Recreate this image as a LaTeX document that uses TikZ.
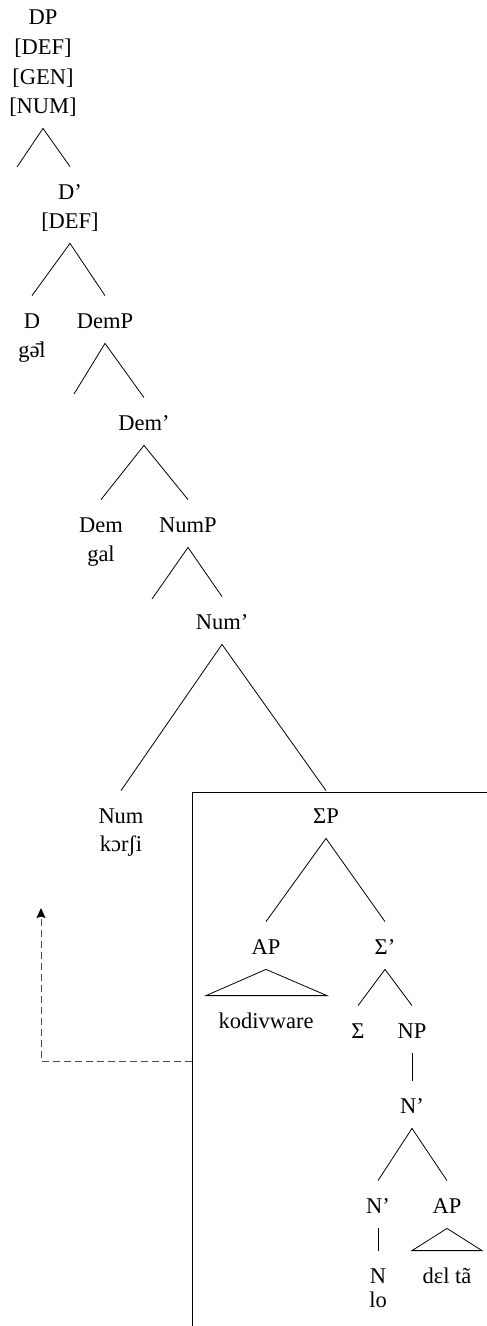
\documentclass[tikz,border=0pt]{standalone}
\usepackage{fontspec}
\setmainfont{Liberation Serif}
\usetikzlibrary{arrows.meta}

\begin{document}
\begin{tikzpicture}[x=1pt, y=-1pt, line width=0.8pt,
    cat/.style = {anchor=base, inner xsep=0pt, inner ysep=10pt, text height=22pt, text depth=5pt, font=\fontsize{22.5}{29}\selectfont},
    move/.style = {dash pattern=on 7pt off 4pt, draw=black!70, line width=1pt}]
        \useasboundingbox (0,0) rectangle (487,1326);
        % DP and its features
        \node [cat] (dp) at (43,24) {DP};
        \node [cat] (dpdef) at (43,54) {[DEF]};
        \node [cat] (dpgen) at (43,84) {[GEN]};
        \node [cat] (dpnum) at (43,113) {[NUM]};
        \coordinate (dspec) at (17,167);
        \node [cat] (dbar) at (70,199) {D'};
        \node [cat] (dbardef) at (70,228) {[DEF]};
        \node [cat] (d) at (32,328) {D};
        \node [cat] (dlex) at (32,357) {g\={ə}l};
        \node [cat] (demp) at (105,328) {DemP};
        \coordinate (demspec) at (74,394);
        \node [cat] (dembar) at (144,430) {Dem'};
        \node [cat] (dem) at (101,532) {Dem};
        \node [cat] (demlex) at (101,561) {gal};
        \node [cat] (nump) at (188,532) {NumP};
        \coordinate (numspec) at (152,599);
        \node [cat] (numbar) at (222,629) {Num'};
        \node [cat] (num) at (121,823) {Num};
        \node [cat] (numlex) at (121,851) {kɔrʃi};
        % inside the box
        \node [cat] (sigp) at (326,823) {ΣP};
        \node [cat] (ap) at (266,954) {AP};
        \node [cat] (sigbar) at (385,954) {Σ'};
        \node [cat] (aplex) at (266,1028) {kodivware};
        \node [cat] (sig) at (358,1038) {Σ};
        \node [cat] (np) at (412,1038) {NP};
        \node [cat] (nbar) at (412,1113) {N'};
        \node [cat] (nbarlow) at (378,1213) {N'};
        \node [cat] (aplow) at (447,1213) {AP};
        \node [cat] (n) at (378,1283) {N};
        \node [cat] (nlex) at (378,1307) {lo};
        \node [cat] (aplowlex) at (447,1283) {dɛl tã};
        % branches
        \draw (dpnum.south) -- (dspec);
        \draw (dpnum.south) -- (dbar.north);
        \draw (dbardef.south) -- (d.north);
        \draw (dbardef.south) -- (demp.north);
        \draw (demp.south) -- (demspec);
        \draw (demp.south) -- (dembar.north);
        \draw (dembar.south) -- (dem.north);
        \draw (dembar.south) -- (nump.north);
        \draw (nump.south) -- (numspec);
        \draw (nump.south) -- (numbar.north);
        \draw (numbar.south) -- (num.north);
        \draw (numbar.south) -- (sigp.north);
        \draw (sigp.south) -- (ap.north);
        \draw (sigp.south) -- (sigbar.north);
        \draw (ap.south) -- ([xshift=-60pt]aplex.north) -- ([xshift=61pt]aplex.north) -- cycle;
        \draw (sigbar.south) -- (sig.north);
        \draw (sigbar.south) -- (np.north);
        \draw (np.south) -- (nbar.north);
        \draw (nbar.south) -- (nbarlow.north);
        \draw (nbar.south) -- (aplow.north);
        \draw (nbarlow.south) -- (n.north);
        \draw (aplow.south) -- ([xshift=-35pt]aplowlex.north) -- ([xshift=35pt]aplowlex.north) -- cycle;
        % box and movement
        \coordinate (boxtl) at (192,792);
        \coordinate (gapstart) at (192,1061);
        \coordinate (landing) at (41,908);
        \draw [line width=1pt] (192,1326) -- (boxtl) -- (487,792);
        \draw [move, -{Stealth[length=10pt, width=9pt, inset=1.5pt, black]}] (gapstart) -| (landing);
\end{tikzpicture}
\end{document}
